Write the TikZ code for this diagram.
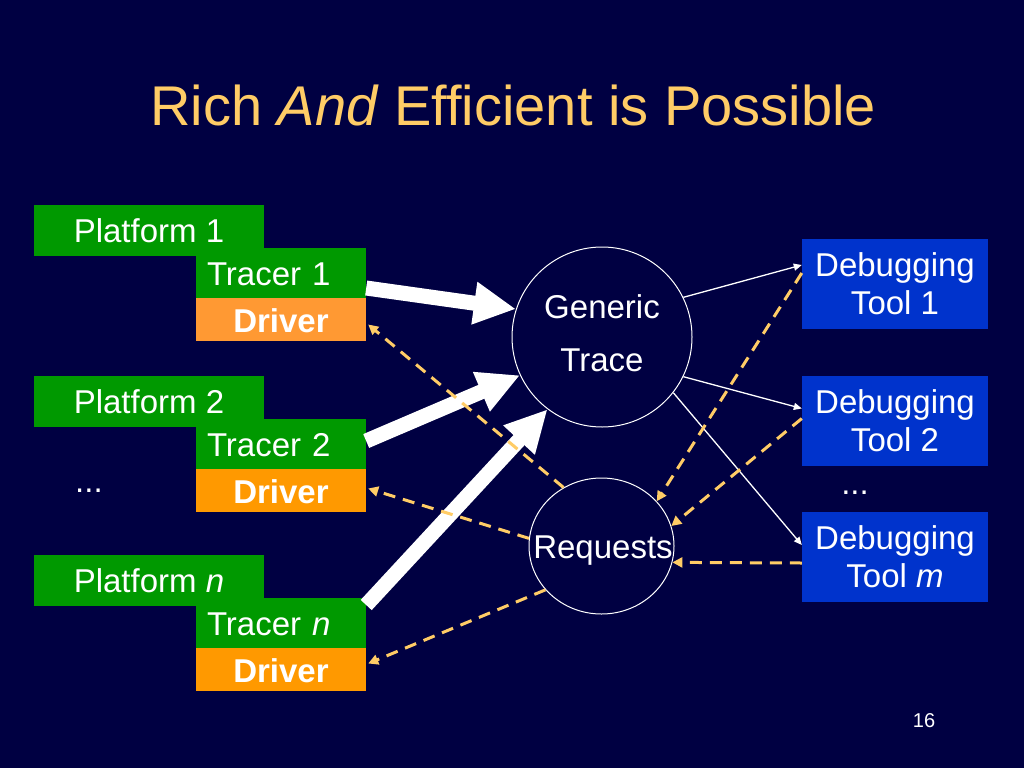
\documentclass[tikz,border=0pt]{standalone}
\usepackage{fontspec}
\setmainfont{Liberation Sans}
\usetikzlibrary{arrows.meta,shapes.geometric,calc}
\definecolor{bg}{HTML}{000042}
\definecolor{titlec}{HTML}{FFCC66}
\definecolor{grn}{HTML}{009900}
\definecolor{orgA}{HTML}{FF9933}
\definecolor{orgB}{HTML}{FF9900}
\definecolor{blu}{HTML}{0033CC}
\definecolor{dashc}{HTML}{FFCC66}
\begin{document}
\begin{tikzpicture}[x=1pt,y=-1pt,
  txt/.style={text=white,font=\fontsize{33}{38}\selectfont},
  platbox/.style={txt,fill=grn,minimum width=230pt,minimum height=51pt,inner sep=0pt,text height=24pt,text depth=0pt},
  tracerbox/.style={txt,fill=grn,minimum width=170pt,minimum height=50pt,inner xsep=11pt,inner ysep=0pt,text width=148pt,align=left,text height=24pt,text depth=0pt},
  driverbox/.style={text=white,font=\fontsize{33}{38}\selectfont\bfseries,minimum width=170pt,minimum height=43pt,inner sep=0pt,text height=26pt,text depth=0pt},
  toolbox/.style={txt,fill=blu,minimum width=186pt,minimum height=90pt,inner sep=0pt,align=center},
  ring/.style={draw=white,line width=1pt,inner sep=0pt},
  bigarrow/.style={draw=white,line width=15pt,-{Triangle[length=42pt,width=40pt]}},
  thinarrow/.style={draw=white,line width=1.3pt,-{Triangle[length=8pt,width=7pt]}},
  reqarrow/.style={draw=dashc,line width=3pt,dash pattern=on 12pt off 8pt,-{Triangle[length=10pt,width=10pt]}}
]
\useasboundingbox (0,0) rectangle (1024,768);
\fill[bg] (0,0) rectangle (1024,768);

\node (title) [anchor=base,text=titlec,font=\fontsize{56}{60}\selectfont] at (513,125) {Rich \textit{And} Efficient is Possible};

% left stacks
\node (tr1) [tracerbox] at (281,273) {Tracer 1};
\node (p1) [platbox] at (149,230.5) {Platform 1};
\node (d1) [driverbox,fill=orgA] at (281,319.5) {Driver};

\node (tr2) [tracerbox] at (281,444) {Tracer 2};
\node (p2) [platbox] at (149,401.5) {Platform 2};
\node (d2) [driverbox,fill=orgB] at (281,490.5) {Driver};

\node (trn) [tracerbox] at (281,623) {Tracer \textit{n}};
\node (pn) [platbox] at (149,580.5) {Platform \textit{n}};
\node (dn) [driverbox,fill=orgB] at (281,669.5) {Driver};

\node (dotsl) [txt,anchor=base] at (89,492) {...};

% centre
\node (gt) [ring,circle,minimum size=180pt] at (602,337) {};
\node (gttext) [txt,align=center,font=\fontsize{33}{53}\selectfont] at (602,333.5) {Generic\\Trace};
\node (rq) [ring,ellipse,minimum width=145pt,minimum height=136pt] at (601.5,546) {};
\node (rqtext) [txt,anchor=base] at (603,558) {Requests};

% right
\node (dt1) [toolbox] at (895,284) {Debugging\\Tool 1};
\node (dt2) [toolbox] at (895,420.5) {Debugging\\Tool 2};
\node (dtm) [toolbox] at (895,557) {Debugging\\Tool \textit{m}};
\node (dotsr) [txt,anchor=base] at (855,494) {...};

% trace arrows
\draw[bigarrow] ($(tr1.east)+(0,15)$) -- (gt.162);
\draw[bigarrow] ($(tr2.east)+(0,-3)$) -- (gt.205);
\draw[bigarrow] ($(trn.east)+(0,-18)$) -- (gt.233);

\draw[thinarrow] (gt.26) -- ($(dt1.west)+(0,-19)$);
\draw[thinarrow] (gt.334) -- ($(dt2.west)+(0,-12)$);
\draw[thinarrow] (gt.322) -- ($(dtm.west)+(0,-12)$);

% request arrows
\draw[reqarrow] (rq.123) -- ($(d1.east)+(2,5)$);
\draw[reqarrow] (rq.174) -- ($(d2.east)+(2,-2)$);
\draw[reqarrow] (rq.218) -- ($(dn.east)+(2,-6)$);
\draw[reqarrow] ($(dt1.west)+(0,-11)$) -- (rq.39);
\draw[reqarrow] ($(dt2.west)+(0,-2)$) -- (rq.16);
\draw[reqarrow] ($(dtm.west)+(0,6)$) -- (rq.347);

\node (pagenum) [anchor=base,text=white,font=\fontsize{20}{24}\selectfont] at (924,727) {16};
\end{tikzpicture}
\end{document}
